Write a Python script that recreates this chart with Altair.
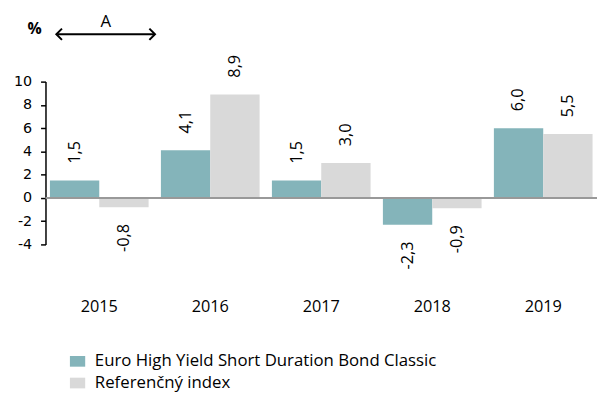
import altair as alt
import pandas as pd

years = ["2015", "2016", "2017", "2018", "2019"]
series = ["Euro High Yield Short Duration Bond Classic", "Referenčný index"]
fund = [1.5, 4.1, 1.5, -2.3, 6.0]
index = [-0.8, 8.9, 3.0, -0.9, 5.5]
colors = ["#84B4BA", "#D9D9D9"]
ticks = [-4, -2, 0, 2, 4, 6, 8, 10]

rows = []
for i, y in enumerate(years):
    for s, vals in zip(series, [fund, index]):
        v = vals[i]
        rows.append({"year": y, "series": s, "value": v,
                     "label": f"{v:.1f}".replace(".", ",")})
df = pd.DataFrame(rows)

FONT = "Open Sans"
YDOM = [-4, 10]

x = alt.X("year:N", title=None, sort=years,
          scale=alt.Scale(paddingInner=0.111, paddingOuter=0.04),
          axis=alt.Axis(labelAngle=0, domain=False, ticks=False, labelPadding=55,
                        labelFontSize=16.5, labelFont=FONT, labelColor="#000"))
xo = alt.XOffset("series:N", sort=series, scale=alt.Scale(paddingInner=0, paddingOuter=0))
yaxis = alt.Axis(values=ticks, grid=False,
                 domainColor="#000", domainWidth=1.5, tickColor="#000",
                 tickSize=5, tickWidth=1.5, labelPadding=9,
                 labelOverlap=False, labelBound=False, labelFlush=False,
                 labelFontSize=14.5, labelFont="DejaVu Sans", labelColor="#000",
                 labelExpr="'' + datum.value")
yscale = alt.Scale(domain=YDOM, nice=False, zero=False)
y = alt.Y("value:Q", title=None, scale=yscale, axis=yaxis)

base = alt.Chart(df)

bars = base.mark_bar().encode(
    x=x, xOffset=xo, y=y,
    color=alt.Color("series:N", sort=series,
                    scale=alt.Scale(domain=series, range=colors),
                    legend=alt.Legend(title=None, orient="none", legendX=24, legendY=275,
                                      symbolType="M-1,-0.7 H1 V0.7 H-1 Z", symbolSize=240,
                                      symbolStrokeWidth=0, labelFontSize=17,
                                      labelFont=FONT, labelColor="#000",
                                      rowPadding=4, labelOffset=9, labelLimit=500)),
)

pos_text = base.transform_filter("datum.value >= 0").mark_text(
    angle=270, align="left", baseline="middle", dx=17, fontSize=16.5, font=FONT, color="#000"
).encode(x=x, xOffset=xo, y=y, text="label:N")

neg_text = base.transform_filter("datum.value < 0").mark_text(
    angle=270, align="right", baseline="middle", dx=-17, fontSize=16.5, font=FONT, color="#000"
).encode(x=x, xOffset=xo, y=y, text="label:N")

zero = alt.Chart(pd.DataFrame({"value": [0]})).mark_rule(color="#999999", strokeWidth=2).encode(
    y=y
)

one = pd.DataFrame({"a": [0]})
pct = alt.Chart(one).mark_text(text="%", fontSize=16, fontWeight="bold", font=FONT,
                               color="#000", align="center", baseline="middle").encode(
    x=alt.value(-11), y=alt.value(-53))
a_txt = alt.Chart(one).mark_text(text="A", fontSize=17, font=FONT, color="#000",
                                 align="center", baseline="middle").encode(
    x=alt.value(61), y=alt.value(-60))
arrow_line = alt.Chart(one).mark_rule(color="#000", strokeWidth=2).encode(
    x=alt.value(12), x2=alt.value(110), y=alt.value(-48))
left_head = alt.Chart(one).mark_point(shape="M1,-1 L0,0 L1,1", size=130, filled=False,
                                      color="#000", strokeWidth=2, opacity=1).encode(
    x=alt.value(11), y=alt.value(-48))
right_head = alt.Chart(one).mark_point(shape="M-1,-1 L0,0 L-1,1", size=130, filled=False,
                                       color="#000", strokeWidth=2, opacity=1).encode(
    x=alt.value(111), y=alt.value(-48))

chart = alt.layer(bars, zero, pos_text, neg_text, pct, a_txt, arrow_line, left_head, right_head).properties(
    width=559, height=165,
    autosize=alt.AutoSizeParams(type="none"),
    padding={"left": 38, "top": 72, "right": 0, "bottom": 150},
).configure_view(stroke=None).resolve_scale(y="shared")

chart.save("out.html", embed_options={"renderer": "svg", "actions": False})
